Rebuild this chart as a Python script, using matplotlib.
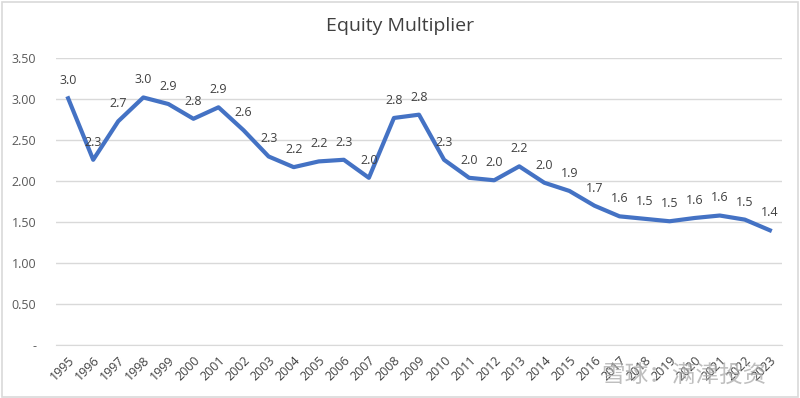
import matplotlib
matplotlib.use("Agg")
import matplotlib.pyplot as plt
from matplotlib.patches import Rectangle

years = [str(y) for y in range(1995, 2024)]
values = [3.01, 2.26, 2.73, 3.02, 2.94, 2.76, 2.90, 2.62, 2.30, 2.17,
          2.24, 2.26, 2.04, 2.77, 2.81, 2.26, 2.04, 2.01, 2.18, 1.98,
          1.88, 1.70, 1.57, 1.54, 1.51, 1.55, 1.58, 1.53, 1.40]
yticks = [0, 0.5, 1.0, 1.5, 2.0, 2.5, 3.0, 3.5]
ytick_labels = ["-", "0.50", "1.00", "1.50", "2.00", "2.50", "3.00", "3.50"]
title = "Equity Multiplier"
watermark = "雪球：满津投资"

plt.rcParams['font.family'] = ['Open Sans', 'Noto Sans CJK SC', 'DejaVu Sans']

fig = plt.figure(figsize=(8, 3.98), dpi=100)
ax = fig.add_axes([0.0695, 0.133, 0.9085, 0.721])

x = list(range(len(years)))
ax.plot(x, values, color='#4472C4', linewidth=3, solid_joinstyle='round', zorder=3)

for xi, v in zip(x, values):
    ax.annotate(f"{v:.1f}", (xi, v), xytext=(0, 8), textcoords='offset points',
                ha='center', va='bottom', fontsize=9, color='#404040', zorder=4)

ax.set_xlim(-0.5, len(years) - 0.5)
ax.set_ylim(0, 3.5)
ax.set_yticks(yticks)
ax.set_yticklabels(ytick_labels, fontsize=9, color='#595959')
ax.set_xticks(x)
ax.set_xticklabels(years, rotation=45, ha='right', rotation_mode='anchor',
                   fontsize=9, color='#404040')
ax.tick_params(axis='both', length=0)
ax.tick_params(axis='y', pad=14)
ax.tick_params(axis='x', pad=6)
ax.grid(axis='y', color='#D9D9D9', linewidth=1)
ax.set_axisbelow(True)
for s in ['top', 'right', 'left']:
    ax.spines[s].set_visible(False)
ax.spines['bottom'].set_color('#D9D9D9')

fig.text(0.5, 0.935, title, ha='center', va='center', fontsize=14, color='#404040')

fig.patches.append(Rectangle((0.002, 0.003), 0.995, 0.993, transform=fig.transFigure,
                             fill=False, edgecolor='#D9D9D9', linewidth=1.2))

fig.text(0.855, 0.055, watermark, ha='center', va='center', fontsize=17,
         color='#AAAAAA', alpha=0.75, family=['Noto Sans CJK SC', 'DejaVu Sans'], zorder=10)

fig.savefig("out.png", dpi=100)
